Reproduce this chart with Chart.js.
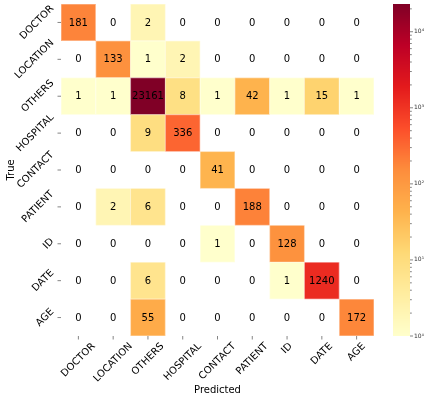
<!DOCTYPE html>
<html>
<head>
<meta charset="utf-8">
<script src="https://cdn.jsdelivr.net/npm/chart.js@4/dist/chart.umd.min.js"></script>
<style>
  html, body { margin: 0; padding: 0; background: #fff; }
  #wrap { width: 426px; height: 398px; }
</style>
</head>
<body>
<div id="wrap"><canvas id="cm"></canvas></div>
<script>
// confusion matrix, rows = true label, columns = predicted label
const predicted = ['DOCTOR', 'LOCATION', 'OTHERS', 'HOSPITAL', 'CONTACT', 'PATIENT', 'ID', 'DATE', 'AGE'];
const actual = ['DOCTOR', 'LOCATION', 'OTHERS', 'HOSPITAL', 'CONTACT', 'PATIENT', 'ID', 'DATE', 'AGE'];

const rowDoctor   = [181, 0, 2, 0, 0, 0, 0, 0, 0];
const rowLocation = [0, 133, 1, 2, 0, 0, 0, 0, 0];
const rowOthers   = [1, 1, 23161, 8, 1, 42, 1, 15, 1];
const rowHospital = [0, 0, 9, 336, 0, 0, 0, 0, 0];
const rowContact  = [0, 0, 0, 0, 41, 0, 0, 0, 0];
const rowPatient  = [0, 2, 6, 0, 0, 188, 0, 0, 0];
const rowId       = [0, 0, 0, 0, 1, 0, 128, 0, 0];
const rowDate     = [0, 0, 6, 0, 0, 0, 1, 1240, 0];
const rowAge      = [0, 0, 55, 0, 0, 0, 0, 0, 172];

const rows = [rowDoctor, rowLocation, rowOthers, rowHospital, rowContact, rowPatient, rowId, rowDate, rowAge];

const cbMin = 1;
const cbMax = 23161;
const cbTickValues = [1, 10, 100, 1000, 10000];
const cbTickLabels = ['10⁰', '10¹', '10²', '10³', '10⁴'];

const FONT = "'DejaVu Sans', sans-serif";

// YlOrRd
const ylOrRd = ['#ffffcc', '#ffeda0', '#fed976', '#feb24c', '#fd8d3c', '#fc4e2a', '#e31a1c', '#bd0026', '#800026'];
const stops = ylOrRd.map(h => [parseInt(h.slice(1, 3), 16), parseInt(h.slice(3, 5), 16), parseInt(h.slice(5, 7), 16)]);

function cmap(t) {
    t = Math.max(0, Math.min(1, t));
    const p = t * (stops.length - 1);
    const i = Math.min(Math.floor(p), stops.length - 2);
    const f = p - i;
    const a = stops[i], b = stops[i + 1];
    const c = a.map((v, k) => Math.round(v + (b[k] - v) * f));
    return `rgb(${c[0]},${c[1]},${c[2]})`;
}

function norm(v) {
    return (Math.log10(v) - Math.log10(cbMin)) / (Math.log10(cbMax) - Math.log10(cbMin));
}

const cells = [];
rows.forEach((r, i) => r.forEach((v, j) => cells.push({ x: predicted[j], y: actual[i], v: v })));

const heatmapPlugin = {
    id: 'heatmap',
    beforeDatasetsDraw(chart) {
        const { ctx, scales: { x, y } } = chart;
        const cw = x.width / predicted.length;
        const ch = y.height / actual.length;
        ctx.save();
        cells.forEach(c => {
            if (c.v <= 0) return;
            const px = x.getPixelForValue(predicted.indexOf(c.x));
            const py = y.getPixelForValue(actual.indexOf(c.y));
            ctx.fillStyle = cmap(norm(c.v));
            ctx.fillRect(px - cw / 2, py - ch / 2, cw, ch);
            ctx.strokeStyle = 'rgba(255,255,255,0.55)';
            ctx.lineWidth = 0.5;
            ctx.strokeRect(px - cw / 2 + 0.25, py - ch / 2 + 0.25, cw - 0.5, ch - 0.5);
        });
        ctx.restore();
    },
    afterDatasetsDraw(chart) {
        const { ctx, scales: { x, y } } = chart;
        ctx.save();
        ctx.font = `10px ${FONT}`;
        ctx.fillStyle = '#000';
        ctx.textAlign = 'center';
        ctx.textBaseline = 'middle';
        cells.forEach(c => {
            const px = x.getPixelForValue(predicted.indexOf(c.x));
            const py = y.getPixelForValue(actual.indexOf(c.y));
            ctx.fillText(String(c.v), px, py + 0.5);
        });
        ctx.restore();
    },
    afterDraw(chart) {
        const { ctx, scales: { x, y, cb } } = chart;
        const s45 = Math.SQRT1_2;
        const th = 7.5;
        ctx.save();
        ctx.font = `10px ${FONT}`;
        ctx.fillStyle = '#000';
        ctx.textAlign = 'center';
        ctx.textBaseline = 'middle';

        // tick marks + rotated labels, x axis (centered under tick)
        ctx.strokeStyle = '#666';
        ctx.lineWidth = 0.8;
        predicted.forEach((lab, j) => {
            const px = x.getPixelForValue(j);
            ctx.beginPath();
            ctx.moveTo(px, x.top);
            ctx.lineTo(px, x.top + 3.5);
            ctx.stroke();
            const w = ctx.measureText(lab).width;
            const half = (w + th) * s45 / 2;
            ctx.save();
            ctx.translate(px, x.top + 6 + half);
            ctx.rotate(-Math.PI / 4);
            ctx.fillText(lab, 0, 0);
            ctx.restore();
        });

        // y axis (right aligned, vertically centered)
        actual.forEach((lab, i) => {
            const py = y.getPixelForValue(i);
            ctx.beginPath();
            ctx.moveTo(y.right - 3.5, py);
            ctx.lineTo(y.right, py);
            ctx.stroke();
            const w = ctx.measureText(lab).width;
            const half = (w + th) * s45 / 2;
            ctx.save();
            ctx.translate(y.right - 6 - half, py);
            ctx.rotate(-Math.PI / 4);
            ctx.fillText(lab, 0, 0);
            ctx.restore();
        });

        // colour bar
        const bx0 = cb.left + 19;
        const bx1 = cb.left + 36;
        for (let py = Math.floor(cb.top); py < Math.ceil(cb.bottom); py++) {
            const v = cb.getValueForPixel(py + 0.5);
            ctx.fillStyle = cmap(norm(v));
            ctx.fillRect(bx0, py, bx1 - bx0, 1);
        }
        ctx.strokeStyle = '#333';
        ctx.lineWidth = 0.6;
        cb.ticks.forEach(t => {
            const v = t.value;
            const e = Math.floor(Math.log10(v) + 1e-9);
            const m = v / Math.pow(10, e);
            if (Math.abs(m - Math.round(m)) > 1e-6 || v > cbMax) return;
            const py = cb.getPixelForValue(v);
            const len = Math.round(m) === 1 ? 3 : 1.8;
            ctx.beginPath();
            ctx.moveTo(bx1, py);
            ctx.lineTo(bx1 + len, py);
            ctx.stroke();
        });
        ctx.font = `6px ${FONT}`;
        ctx.fillStyle = '#333';
        ctx.textAlign = 'left';
        cbTickValues.forEach((v, k) => {
            const py = cb.getPixelForValue(v);
            ctx.fillText(cbTickLabels[k], bx1 + 4, py);
        });
        ctx.restore();
    }
};

new Chart(document.getElementById('cm'), {
    type: 'scatter',
    data: {
        datasets: [{
            data: cells,
            pointRadius: 0,
            pointHoverRadius: 0
        }]
    },
    options: {
        responsive: true,
        maintainAspectRatio: false,
        animation: false,
        events: [],
        layout: { padding: { top: 4, left: 0, right: 0, bottom: 0 } },
        plugins: {
            legend: { display: false },
            tooltip: { enabled: false }
        },
        scales: {
            x: {
                type: 'category',
                labels: predicted,
                offset: true,
                grid: { display: false },
                border: { display: false },
                ticks: { display: false },
                title: { display: true, text: 'Predicted', color: '#000', font: { family: FONT, size: 10 }, padding: { top: 0, bottom: 2 } },
                afterFit(scale) { scale.height = 62; }
            },
            y: {
                type: 'category',
                labels: actual,
                offset: true,
                grid: { display: false },
                border: { display: false },
                ticks: { display: false },
                title: { display: true, text: 'True', color: '#000', font: { family: FONT, size: 10 }, padding: { top: 5, bottom: 0 } },
                afterFit(scale) { scale.width = 61; }
            },
            cb: {
                type: 'logarithmic',
                axis: 'y',
                position: 'right',
                min: cbMin,
                max: cbMax,
                grid: { display: false },
                border: { display: false },
                ticks: { display: false, autoSkip: false },
                afterFit(scale) { scale.width = 52; }
            }
        }
    },
    plugins: [heatmapPlugin]
});
</script>
</body>
</html>
